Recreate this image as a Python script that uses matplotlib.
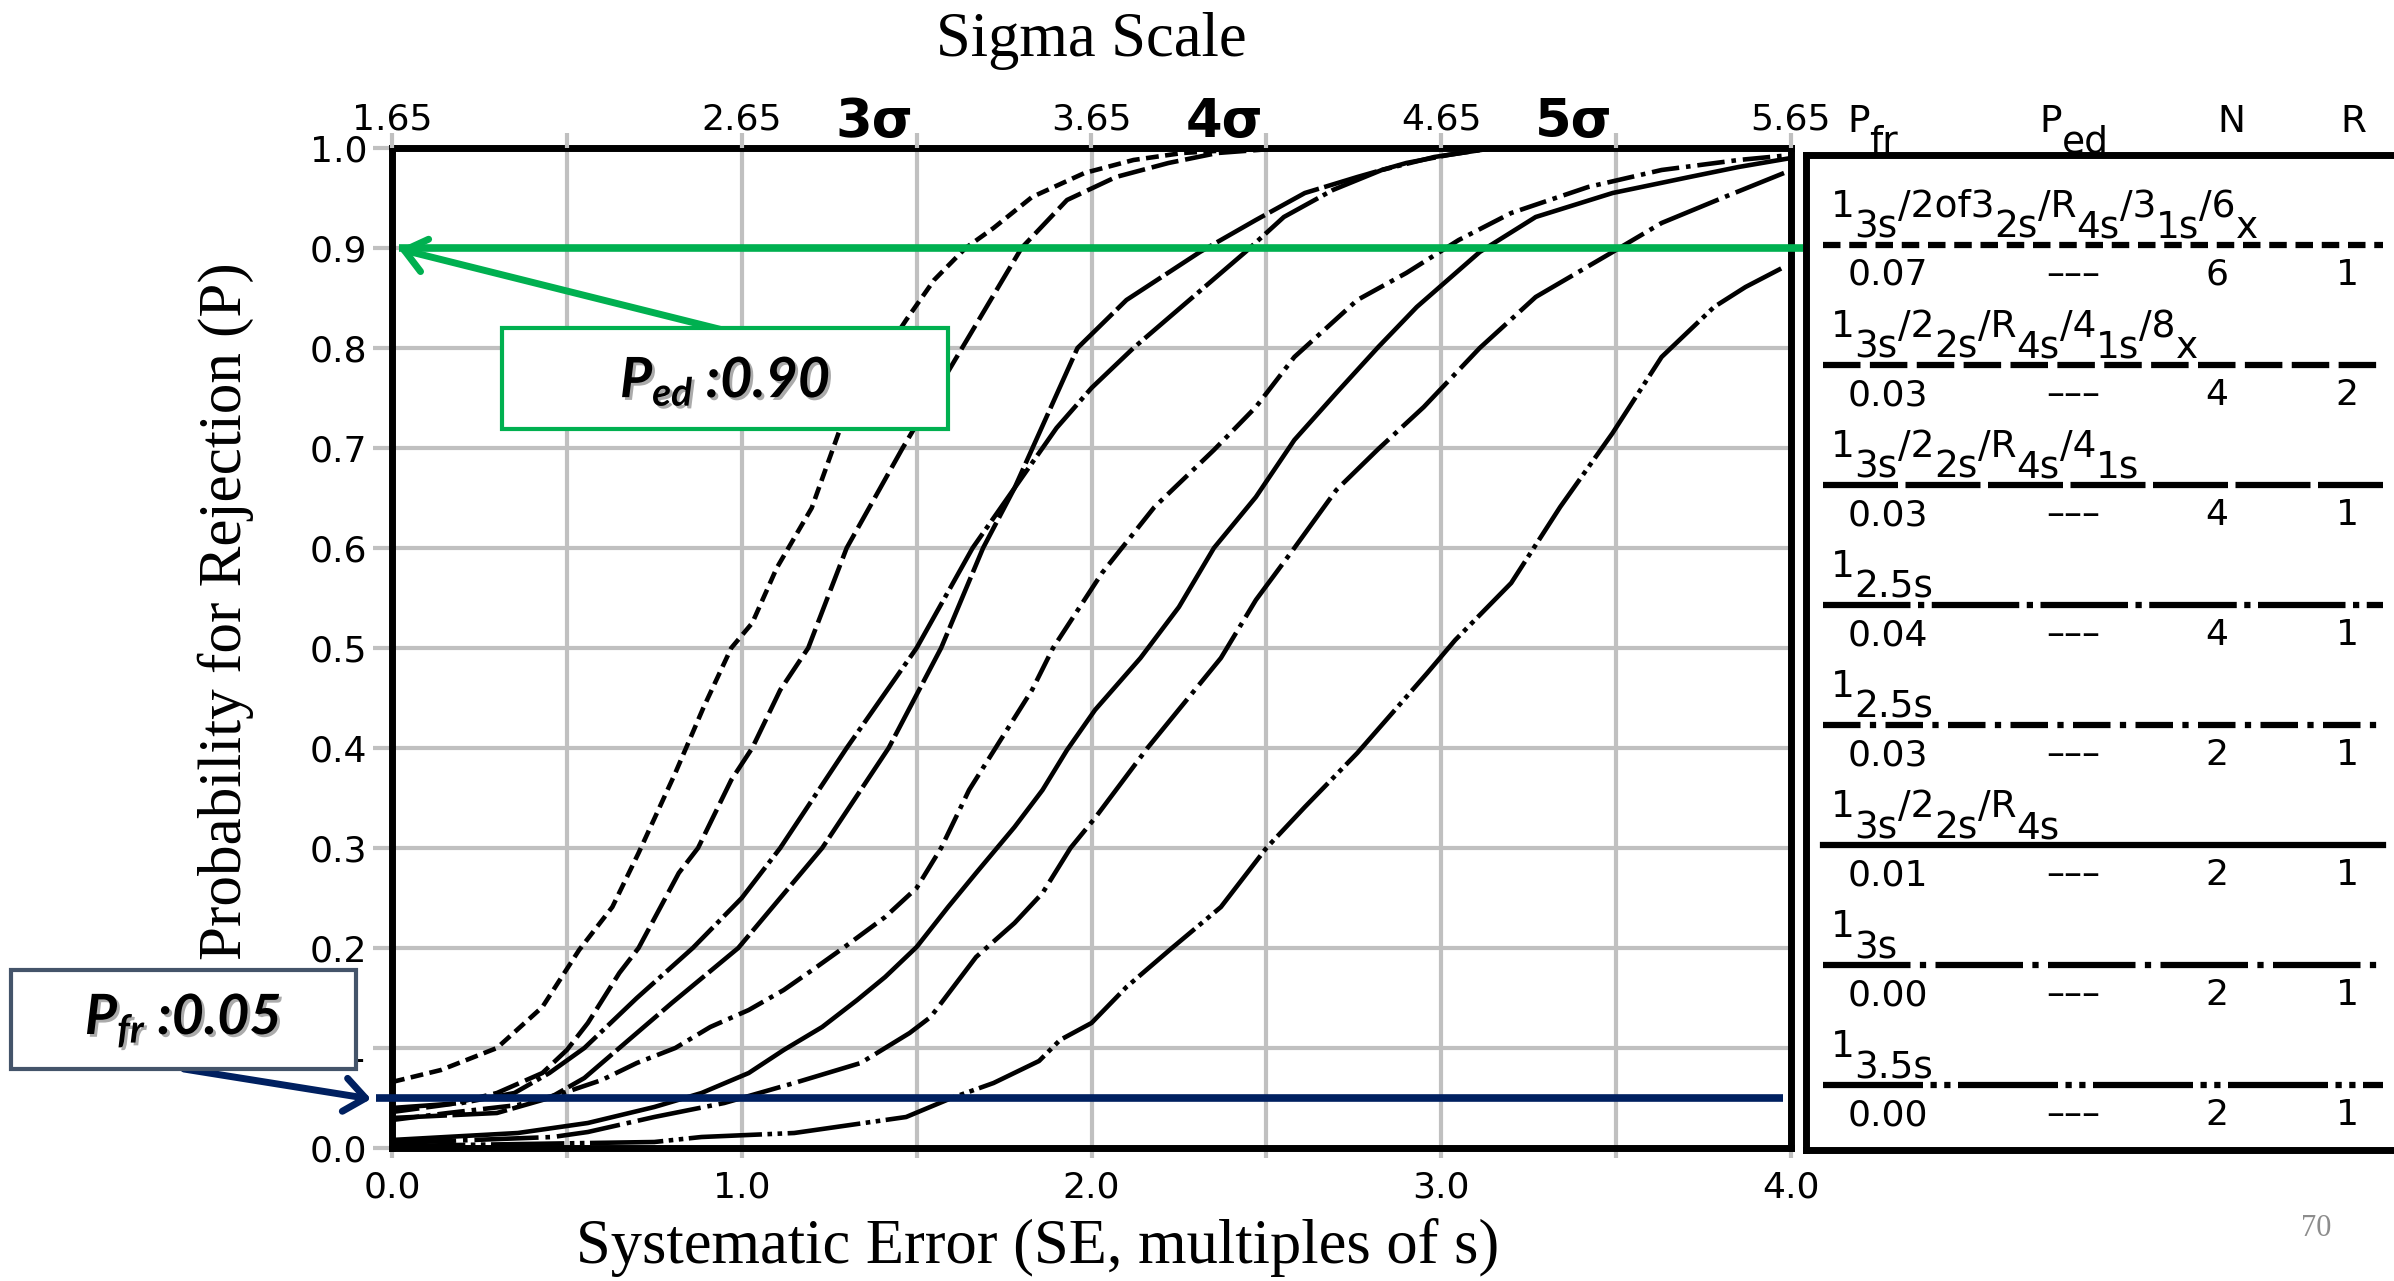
import re
import matplotlib
matplotlib.use('Agg')
import matplotlib.pyplot as plt
import matplotlib.patheffects as pe
from matplotlib.patches import Rectangle
from matplotlib.transforms import blended_transform_factory

plt.rcParams['font.family'] = 'DejaVu Sans'
plt.rcParams['mathtext.fontset'] = 'custom'
plt.rcParams['mathtext.it'] = 'Lato:italic:bold'
plt.rcParams['mathtext.rm'] = 'Lato:bold'

# power curves: SE (multiples of s) vs probability for rejection, in table order
se_1 = [0, 0.14, 0.30, 0.43, 0.535, 0.63, 0.705, 0.81, 0.89, 0.97, 1.03, 1.10, 1.20, 1.28,
        1.37, 1.47, 1.55, 1.64, 1.72, 1.83, 1.98, 2.12, 2.26, 2.40, 2.55]
p_1 = [0.066, 0.078, 0.10, 0.141, 0.198, 0.241, 0.295, 0.375, 0.44, 0.50, 0.525, 0.58, 0.64, 0.718,
       0.775, 0.828, 0.868, 0.90, 0.92, 0.951, 0.975, 0.988, 0.995, 0.998, 1.0]

se_2 = [0, 0.17, 0.30, 0.43, 0.50, 0.56, 0.65, 0.705, 0.82, 0.875, 0.97, 1.03, 1.11, 1.19,
        1.30, 1.46, 1.63, 1.80, 1.93, 2.07, 2.22, 2.36, 2.55]
p_2 = [0.036, 0.044, 0.055, 0.075, 0.098, 0.125, 0.175, 0.20, 0.275, 0.30, 0.368, 0.40, 0.458, 0.50,
       0.60, 0.70, 0.80, 0.90, 0.948, 0.971, 0.985, 0.995, 1.0]

se_3 = [0, 0.30, 0.45, 0.55, 0.65, 0.80, 0.99, 1.23, 1.42, 1.57, 1.69, 1.78, 1.87, 1.96,
        2.10, 2.31, 2.47, 2.61, 2.76, 2.90, 3.02, 3.15]
p_3 = [0.03, 0.035, 0.05, 0.07, 0.10, 0.145, 0.20, 0.30, 0.40, 0.50, 0.60, 0.66, 0.73, 0.80,
       0.848, 0.896, 0.928, 0.955, 0.971, 0.985, 0.993, 1.0]

se_4 = [0, 0.20, 0.35, 0.45, 0.55, 0.70, 0.86, 1.00, 1.11, 1.30, 1.50, 1.66, 1.78, 1.90,
        2.00, 2.12, 2.29, 2.44, 2.55, 2.69, 2.83, 2.98, 3.15]
p_4 = [0.04, 0.045, 0.055, 0.075, 0.10, 0.15, 0.20, 0.25, 0.30, 0.40, 0.50, 0.60, 0.66, 0.72,
       0.76, 0.80, 0.851, 0.896, 0.931, 0.958, 0.978, 0.991, 1.0]

se_5 = [0, 0.16, 0.36, 0.49, 0.60, 0.70, 0.81, 0.91, 1.02, 1.12, 1.21, 1.29, 1.41, 1.50, 1.57,
        1.65, 1.74, 1.83, 1.89, 2.03, 2.18, 2.35, 2.47, 2.58, 2.76, 2.90, 3.05, 3.20, 3.42,
        3.63, 3.85, 4.0]
p_5 = [0.028, 0.035, 0.043, 0.055, 0.068, 0.085, 0.10, 0.121, 0.138, 0.158, 0.18, 0.20, 0.231,
       0.26, 0.30, 0.358, 0.408, 0.458, 0.50, 0.575, 0.641, 0.698, 0.741, 0.791, 0.848, 0.875,
       0.908, 0.935, 0.961, 0.978, 0.988, 0.993]

se_6 = [0, 0.36, 0.56, 0.75, 0.885, 1.02, 1.12, 1.23, 1.33, 1.41, 1.50, 1.59, 1.67, 1.78, 1.86,
        1.93, 2.01, 2.14, 2.25, 2.35, 2.47, 2.58, 2.70, 2.82, 2.93, 3.11, 3.27, 3.49, 3.71,
        3.85, 4.0]
p_6 = [0.008, 0.015, 0.025, 0.041, 0.055, 0.075, 0.098, 0.121, 0.148, 0.171, 0.201, 0.241,
       0.275, 0.321, 0.358, 0.398, 0.438, 0.49, 0.541, 0.60, 0.651, 0.708, 0.755, 0.801, 0.841,
       0.896, 0.931, 0.955, 0.971, 0.981, 0.99]

se_7 = [0, 0.46, 0.56, 0.75, 0.95, 1.15, 1.34, 1.48, 1.54, 1.67, 1.78, 1.86, 1.94, 2.01, 2.16,
        2.37, 2.47, 2.58, 2.70, 2.82, 2.95, 3.11, 3.27, 3.49, 3.63, 3.81, 3.98]
p_7 = [0.005, 0.011, 0.016, 0.031, 0.045, 0.065, 0.085, 0.115, 0.131, 0.191, 0.225, 0.255, 0.30,
       0.33, 0.40, 0.49, 0.548, 0.60, 0.658, 0.699, 0.741, 0.80, 0.851, 0.896, 0.925, 0.951, 0.975]

se_8 = [0, 0.75, 0.885, 1.15, 1.47, 1.60, 1.72, 1.85, 1.91, 2.0, 2.10, 2.23, 2.37, 2.50, 2.61,
        2.76, 2.96, 3.04, 3.20, 3.34, 3.49, 3.63, 3.78, 3.87, 3.98]
p_8 = [0.002, 0.006, 0.011, 0.015, 0.031, 0.05, 0.065, 0.087, 0.108, 0.125, 0.161, 0.20, 0.241,
       0.30, 0.341, 0.395, 0.475, 0.508, 0.565, 0.641, 0.715, 0.791, 0.841, 0.861, 0.881]

curves_se = [se_1, se_2, se_3, se_4, se_5, se_6, se_7, se_8]
curves_p = [p_1, p_2, p_3, p_4, p_5, p_6, p_7, p_8]

# table
rules = ["1_{3s}/2of3_{2s}/R_{4s}/3_{1s}/6_{x}", "1_{3s}/2_{2s}/R_{4s}/4_{1s}/8_{x}",
         "1_{3s}/2_{2s}/R_{4s}/4_{1s}", "1_{2.5s}", "1_{2.5s}", "1_{3s}/2_{2s}/R_{4s}",
         "1_{3s}", "1_{3.5s}"]
pfr = ["0.07", "0.03", "0.03", "0.04", "0.03", "0.01", "0.00", "0.00"]
ped = ["–––", "–––", "–––", "–––", "–––", "–––", "–––", "–––"]
n_vals = ["6", "4", "4", "4", "2", "2", "2", "2"]
r_vals = ["1", "2", "1", "1", "1", "1", "1", "1"]

se_ticks = [0, 1, 2, 3, 4]
se_minor = [0.5, 1.5, 2.5, 3.5]
sigma_labels = ["1.65", "2.65", "3.65", "4.65", "5.65"]
sigma_marks = [3, 4, 5]
p_ticks = [0.0, 0.1, 0.2, 0.3, 0.4, 0.5, 0.6, 0.7, 0.8, 0.9, 1.0]

ped_level = 0.90
pfr_level = 0.05

styles = [(0, (2.8, 1.4)), (0, (6, 1.5)), (0, (12, 1.2)), (0, (14, 1.2, 1, 1.2)),
          (0, (6, 1.5, 1, 1.5)), '-', (0, (14, 1.5, 1, 1.5)), (0, (16, 1.2, 1, 1.2, 1, 1.2))]

GRID = '#c0c0c0'
GREEN = '#00b050'
NAVY = '#002060'


def rule_text(ax, x, y, label, size=27, drop=15):
    # sub-parts are same size, just lowered
    parts = re.split(r'_\{([^}]*)\}', label)
    t = ax.text(x, y, parts[0], fontsize=size, ha='left', va='baseline', clip_on=False)
    prev_sub = False
    for k, s in enumerate(parts[1:], 1):
        if not s:
            continue
        is_sub = (k % 2 == 1)
        shift = 0
        if is_sub and not prev_sub:
            shift = -drop
        elif prev_sub and not is_sub:
            shift = drop
        t = ax.annotate(s, xy=(1, 0), xycoords=t, xytext=(0, shift), textcoords='offset points',
                        fontsize=size, ha='left', va='bottom', annotation_clip=False)
        prev_sub = is_sub
    return t


fig = plt.figure(figsize=(23.94, 12.81), dpi=100)
ax = fig.add_axes([392 / 2394, 1 - 1148 / 1281, 1399 / 2394, 1000 / 1281])
ax.set_xlim(0, 4)
ax.set_ylim(0, 1)

ax.set_xticks(se_ticks, labels=[f"{v:.1f}" for v in se_ticks])
ax.set_xticks(se_minor, minor=True)
ax.set_yticks(p_ticks, labels=[f"{v:.1f}" for v in p_ticks])
ax.grid(which='both', color=GRID, lw=3)
ax.set_axisbelow(True)
ax.tick_params(axis='x', which='both', color=GRID, width=3, length=7, pad=9, labelsize=26)
ax.tick_params(axis='y', which='both', color=GRID, width=3, length=14, pad=4, labelsize=26)
for sp in ax.spines.values():
    sp.set_linewidth(5)
    sp.set_zorder(5)

for se, p, ls in zip(curves_se, curves_p, styles):
    ax.plot(se, p, color='black', lw=3.3, linestyle=ls, zorder=3)

# sigma scale on top
ax_top = ax.twiny()
ax_top.set_xlim(0, 4)
ax_top.set_xticks(se_ticks, labels=sigma_labels)
ax_top.set_xticks(se_minor, minor=True)
ax_top.tick_params(axis='x', which='both', color=GRID, width=3, length=11, pad=-3, labelsize=26)
for sp in ax_top.spines.values():
    sp.set_visible(False)

trans = blended_transform_factory(ax.transData, ax.transAxes)
for s in sigma_marks:
    ax.text(s - 1.65 + 0.03, 1.011, f"{s}σ", transform=trans, ha='center', va='baseline',
            fontsize=38, fontweight='bold')

fig.text(0.456, 0.968, "Sigma Scale", family='Liberation Serif', fontsize=45,
         ha='center', va='center')
fig.text(0.0944, 0.523, "Probability for Rejection (P)", family='Liberation Serif', fontsize=44,
         rotation=90, ha='center', va='center')
fig.text(0.4336, 0.026, "Systematic Error (SE, multiples of s)", family='Liberation Serif',
         fontsize=45, ha='center', va='center')
fig.text(2316 / 2394, 1 - 1229 / 1281, "70", family='Liberation Serif', fontsize=22,
         color='#8c8c8c', ha='center', va='center')

# reference levels
ax.plot([0.02, 4.035], [ped_level, ped_level], color=GREEN, lw=5.5, clip_on=False, zorder=6,
        solid_capstyle='butt')
ax.plot([-0.046, 3.977], [pfr_level, pfr_level], color=NAVY, lw=5.5, clip_on=False, zorder=6,
        solid_capstyle='butt')

shadow = [pe.withSimplePatchShadow(offset=(2, -2), shadow_rgbFace='#666666', alpha=0.55)]

# Ped call-out
ax.add_patch(Rectangle((0.3145, 0.719), 1.2755, 0.101, facecolor='white', edgecolor=GREEN,
                       lw=3, zorder=10, clip_on=False))
ax.text(0.952, 0.766, f"$P_{{ed}}$ :{ped_level:.2f}", ha='center', va='center', fontsize=40,
        family='Lato', fontweight='bold', style='italic', zorder=11, path_effects=shadow)
ax.annotate('', xy=(0.02, 0.899), xytext=(0.946, 0.818), annotation_clip=False, zorder=9,
            arrowprops=dict(arrowstyle='->,head_length=0.75,head_width=0.6', color=GREEN,
                            lw=5, shrinkA=0, shrinkB=0, mutation_scale=20))

# Pfr call-out
ax.add_patch(Rectangle((-1.089, 0.079), 0.986, 0.099, facecolor='white', edgecolor='#44546a',
                       lw=3, zorder=10, clip_on=False))
ax.text(-0.598, 0.127, f"$P_{{fr}}$ :{pfr_level:.2f}", ha='center', va='center', fontsize=40,
        family='Lato', fontweight='bold', style='italic', zorder=11, path_effects=shadow)
ax.annotate('', xy=(-0.06, 0.049), xytext=(-0.595, 0.079), annotation_clip=False, zorder=9,
            arrowprops=dict(arrowstyle='->,head_length=0.75,head_width=0.6', color=NAVY,
                            lw=5, shrinkA=0, shrinkB=0, mutation_scale=20))

# rule table on the right
ax_t = fig.add_axes([1806 / 2394, 1 - 1150 / 1281, 604 / 2394, 995 / 1281])
ax_t.set_xlim(0, 1)
ax_t.set_ylim(7.54, -0.75)
ax_t.set_xticks([])
ax_t.set_yticks([])
for sp in ax_t.spines.values():
    sp.set_linewidth(5)

rule_text(ax_t, 0.068, -0.942, "P_{fr}")
rule_text(ax_t, 0.387, -0.942, "P_{ed}")
ax_t.text(0.704, -0.942, "N", fontsize=27, ha='center', va='baseline')
ax_t.text(0.906, -0.942, "R", fontsize=27, ha='center', va='baseline')

for i in range(len(rules)):
    ax_t.plot([0.028, 0.955], [i, i], color='black', lw=4.5, linestyle=styles[i])
    rule_text(ax_t, 0.041, i - 0.233, rules[i])
    ax_t.text(0.136, i + 0.333, pfr[i], fontsize=26, ha='center', va='baseline')
    ax_t.text(0.442, i + 0.333, ped[i], fontsize=26, ha='center', va='baseline')
    ax_t.text(0.680, i + 0.333, n_vals[i], fontsize=26, ha='center', va='baseline')
    ax_t.text(0.896, i + 0.333, r_vals[i], fontsize=26, ha='center', va='baseline')

fig.savefig('out.png', dpi=100)
